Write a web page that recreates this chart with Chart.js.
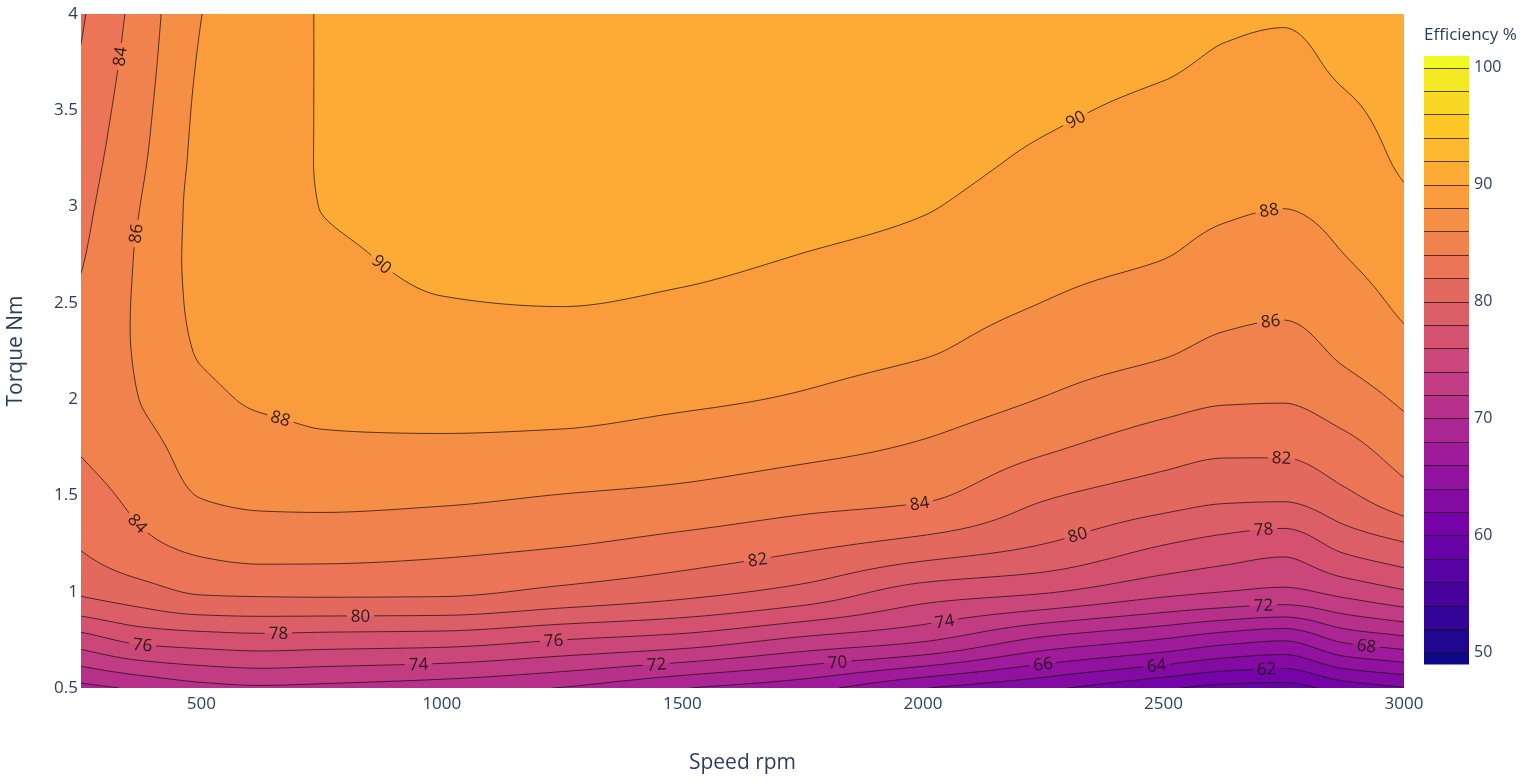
<!DOCTYPE html>
<html>
<head>
<meta charset="utf-8">
<title>Efficiency map</title>
<script src="https://cdn.jsdelivr.net/npm/chart.js@4.4.0/dist/chart.umd.min.js"></script>
<style>
  html, body { margin: 0; padding: 0; background: #fff; }
</style>
</head>
<body>
<canvas id="myChart" width="1530" height="783"></canvas>
<script>
// grid of the efficiency map: speed columns (rpm) and torque rows (Nm)
const speeds = [250, 375, 500, 625, 750, 1000, 1250, 1500, 1750, 2000, 2250, 2500, 2625, 2750, 2875, 3000];
const torques = [0.5, 0.75, 1, 1.25, 1.5, 1.75, 2, 2.25, 2.5, 2.75, 3, 3.25, 3.5, 3.75, 4];

// efficiency % : one row per torque, one value per speed
const efficiency = [
    [69.4, 70.35, 71.33, 71.7, 71.5, 70.9, 69.9, 68.1, 66.7, 64.1, 62.4, 60.3, 59.4, 59.2, 60.9, 61.9],
    [75.1, 76.55, 77.0, 77.25, 77.1, 76.9, 76.0, 75.18, 73.57, 72.25, 69.55, 67.85, 66.77, 66.15, 68.43, 69.43],
    [80.3, 81.26, 82.23, 82.38, 82.43, 82.36, 81.56, 80.64, 79.37, 77.12, 76.19, 74.56, 74.0, 73.6, 74.63, 75.8],
    [82.2, 83.58, 84.52, 84.9, 84.87, 84.58, 84.16, 83.39, 82.48, 81.42, 80.03, 78.1, 77.36, 76.85, 78.71, 79.89],
    [83.2, 84.59, 86.07, 86.41, 86.52, 86.36, 85.95, 85.56, 84.86, 84.32, 82.25, 80.96, 80.44, 80.37, 81.62, 83.27],
    [84.15, 85.34, 86.8, 87.34, 87.74, 87.73, 87.58, 87.09, 86.53, 85.78, 84.32, 82.9, 82.41, 82.4, 83.39, 84.97],
    [84.7, 86.05, 87.53, 88.2, 88.33, 88.55, 88.56, 88.27, 87.84, 87.05, 85.94, 84.71, 84.2, 84.12, 85.05, 86.33],
    [84.9, 86.25, 88.15, 88.6, 88.76, 89.23, 89.31, 89.02, 88.6, 88.15, 86.96, 86.2, 85.55, 85.31, 86.36, 87.48],
    [84.35, 86.35, 88.4, 88.85, 89.18, 89.92, 90.05, 89.78, 89.29, 88.83, 87.98, 87.16, 86.6, 86.35, 87.17, 88.35],
    [83.8, 86.3, 88.5, 89.0, 89.6, 90.4, 90.6, 90.4, 89.98, 89.51, 88.58, 88.07, 87.5, 87.18, 87.99, 89.0],
    [83.39, 86.05, 88.5, 89.05, 90.03, 90.7, 90.9, 90.8, 90.5, 90.1, 89.18, 88.6, 88.23, 88.03, 88.57, 89.64],
    [82.97, 85.7, 88.4, 89.05, 90.1, 90.9, 91.0, 91.0, 90.8, 90.5, 89.78, 89.14, 88.76, 88.56, 89.15, 90.3],
    [82.56, 85.4, 88.3, 89.05, 90.1, 91.0, 91.1, 91.1, 91.0, 90.7, 90.2, 89.68, 89.28, 89.09, 89.72, 90.6],
    [82.15, 85.1, 88.15, 89.0, 90.1, 91.0, 91.1, 91.1, 91.0, 90.8, 90.4, 90.2, 89.8, 89.62, 90.3, 90.8],
    [81.75, 84.84, 87.98, 89.0, 90.1, 91.0, 91.1, 91.1, 91.0, 90.8, 90.5, 90.7, 90.3, 90.15, 90.6, 90.9]
];

const contourLevels = [50, 52, 54, 56, 58, 60, 62, 64, 66, 68, 70, 72, 74, 76, 78, 80, 82, 84, 86, 88, 90, 92, 94, 96, 98, 100];
const speedTicks = [500, 1000, 1500, 2000, 2500, 3000];
const torqueTicks = [0.5, 1, 1.5, 2, 2.5, 3, 3.5, 4];
const colorbarTicks = [50, 60, 70, 80, 90, 100];
const colorbarRange = [49, 101];

// contour labels: level and roughly where it sits (speed, torque)
const labelLevels = [84, 86, 90, 88, 84, 80, 78, 76, 74, 76, 72, 82, 70, 84, 74, 66, 80, 90, 64, 88, 86, 82, 78, 72, 62, 68];
const labelSpeeds = [327, 367, 868, 660, 352, 831, 660, 377, 951, 1232, 1447, 1657, 1822, 1994, 2046, 2250, 2319, 2319, 2487, 2718, 2722, 2745, 2709, 2707, 2715, 2921];
const labelTorques = [3.78, 2.86, 2.68, 1.86, 1.32, 0.88, 0.77, 0.72, 0.63, 0.75, 0.63, 1.17, 0.62, 1.44, 0.82, 0.62, 1.31, 3.44, 0.60, 3.00, 2.41, 1.71, 1.32, 0.94, 0.60, 0.71];

const plasma = ['#0d0887', '#46039f', '#7201a8', '#9c179e', '#bd3786', '#d8576b', '#ed7953', '#fb9f3a', '#fdca26', '#f0f921'];

const textColor = '#2a3f5f';
const lineColor = 'rgba(25, 15, 20, 0.72)';

function hexRgb(h) {
    return [parseInt(h.slice(1, 3), 16), parseInt(h.slice(3, 5), 16), parseInt(h.slice(5, 7), 16)];
}
const plasmaRgb = plasma.map(hexRgb);

function colorAt(t) {
    t = Math.max(0, Math.min(1, t));
    const p = t * (plasmaRgb.length - 1);
    const i = Math.min(Math.floor(p), plasmaRgb.length - 2);
    const f = p - i;
    const a = plasmaRgb[i], b = plasmaRgb[i + 1];
    return [0, 1, 2].map(k => Math.round(a[k] + (b[k] - a[k]) * f));
}

// colour of the band that starts at level L
function bandRgb(L) {
    const step = contourLevels[1] - contourLevels[0];
    return colorAt((L + step / 2 - colorbarRange[0]) / (colorbarRange[1] - colorbarRange[0]));
}

// monotone cubic (pchip)
function pchipSlopes(xs, ys) {
    const n = xs.length, h = [], d = [], m = new Array(n);
    for (let i = 0; i < n - 1; i++) {
        h[i] = xs[i + 1] - xs[i];
        d[i] = (ys[i + 1] - ys[i]) / h[i];
    }
    m[0] = d[0];
    m[n - 1] = d[n - 2];
    for (let i = 1; i < n - 1; i++) {
        if (d[i - 1] * d[i] <= 0) {
            m[i] = 0;
        } else {
            const w1 = 2 * h[i] + h[i - 1], w2 = h[i] + 2 * h[i - 1];
            m[i] = (w1 + w2) / (w1 / d[i - 1] + w2 / d[i]);
        }
    }
    return m;
}

function pchipEval(xs, ys, m, x) {
    let i = 0;
    while (i < xs.length - 2 && x > xs[i + 1]) i++;
    const h = xs[i + 1] - xs[i];
    const t = (x - xs[i]) / h, t2 = t * t, t3 = t2 * t;
    return (2 * t3 - 3 * t2 + 1) * ys[i] + (t3 - 2 * t2 + t) * h * m[i]
        + (-2 * t3 + 3 * t2) * ys[i + 1] + (t3 - t2) * h * m[i + 1];
}

function clamp(v, a, b) { return Math.max(a, Math.min(b, v)); }

let cache = null;

function buildField(chart) {
    const {left, top, right, bottom} = chart.chartArea;
    const xs = chart.scales.x, ys = chart.scales.y;
    const W = Math.round(right - left), H = Math.round(bottom - top);
    const nx = W + 1, ny = H + 1;
    const z = new Float32Array(nx * ny);
    const cols = speeds.map((s, j) => efficiency.map(row => row[j]));
    const colM = cols.map(c => pchipSlopes(torques, c));
    const colSpeed = new Float64Array(nx);
    for (let c = 0; c < nx; c++) {
        colSpeed[c] = clamp(xs.getValueForPixel(left + c), speeds[0], speeds[speeds.length - 1]);
    }
    const vals = new Array(speeds.length);
    for (let r = 0; r < ny; r++) {
        const t = clamp(ys.getValueForPixel(top + r), torques[0], torques[torques.length - 1]);
        for (let j = 0; j < speeds.length; j++) vals[j] = pchipEval(torques, cols[j], colM[j], t);
        const m = pchipSlopes(speeds, vals);
        for (let c = 0; c < nx; c++) z[r * nx + c] = pchipEval(speeds, vals, m, colSpeed[c]);
    }
    return {left, top, W, H, nx, ny, z};
}

function traceContours(f) {
    const {nx, ny, z, left, top} = f;
    const segs = contourLevels.map(() => []);
    const lo = contourLevels[0], step = contourLevels[1] - contourLevels[0], n = contourLevels.length;
    for (let r = 0; r < ny - 1; r++) {
        for (let c = 0; c < nx - 1; c++) {
            const a = z[r * nx + c], b = z[r * nx + c + 1];
            const d = z[(r + 1) * nx + c], e = z[(r + 1) * nx + c + 1];
            const mn = Math.min(a, b, d, e), mx = Math.max(a, b, d, e);
            const k0 = Math.max(0, Math.ceil((mn - lo) / step));
            const k1 = Math.min(n - 1, Math.floor((mx - lo) / step));
            for (let k = k0; k <= k1; k++) {
                const L = contourLevels[k];
                const idx = (a >= L ? 8 : 0) | (b >= L ? 4 : 0) | (e >= L ? 2 : 0) | (d >= L ? 1 : 0);
                if (idx === 0 || idx === 15) continue;
                const X = left + c, Y = top + r;
                const T = () => [X + (L - a) / (b - a), Y];
                const R = () => [X + 1, Y + (L - b) / (e - b)];
                const B = () => [X + (L - d) / (e - d), Y + 1];
                const Lf = () => [X, Y + (L - a) / (d - a)];
                const out = segs[k];
                const add = (p, q) => out.push(p[0], p[1], q[0], q[1]);
                const centre = (a + b + d + e) / 4;
                switch (idx) {
                    case 1: case 14: add(Lf(), B()); break;
                    case 2: case 13: add(B(), R()); break;
                    case 3: case 12: add(Lf(), R()); break;
                    case 4: case 11: add(T(), R()); break;
                    case 6: case 9: add(T(), B()); break;
                    case 7: case 8: add(Lf(), T()); break;
                    case 5:
                        if (centre >= L) { add(Lf(), T()); add(B(), R()); }
                        else { add(T(), R()); add(Lf(), B()); }
                        break;
                    case 10:
                        if (centre >= L) { add(T(), R()); add(Lf(), B()); }
                        else { add(Lf(), T()); add(B(), R()); }
                        break;
                }
            }
        }
    }
    return segs;
}

function paintField(f) {
    const {W, H, nx, z} = f;
    const img = new ImageData(W, H);
    const lo = contourLevels[0], step = contourLevels[1] - contourLevels[0];
    const bands = [];
    for (let k = -1; k < contourLevels.length; k++) bands.push(bandRgb(lo + k * step));
    for (let r = 0; r < H; r++) {
        for (let c = 0; c < W; c++) {
            const v = (z[r * nx + c] + z[r * nx + c + 1] + z[(r + 1) * nx + c] + z[(r + 1) * nx + c + 1]) / 4;
            let bi = Math.floor((v - lo) / step) + 1;
            bi = clamp(bi, 0, bands.length - 1);
            const col = bands[bi];
            const p = (r * W + c) * 4;
            img.data[p] = col[0];
            img.data[p + 1] = col[1];
            img.data[p + 2] = col[2];
            img.data[p + 3] = 255;
        }
    }
    return img;
}

function placeLabels(chart, segs, ctx) {
    const xs = chart.scales.x, ys = chart.scales.y;
    ctx.font = '17px "Open Sans"';
    const out = [];
    labelLevels.forEach((L, i) => {
        const k = contourLevels.indexOf(L);
        const list = segs[k];
        if (!list || !list.length) return;
        const hx = xs.getPixelForValue(labelSpeeds[i]), hy = ys.getPixelForValue(labelTorques[i]);
        let best = -1, bd = Infinity;
        for (let s = 0; s < list.length; s += 4) {
            const mx = (list[s] + list[s + 2]) / 2, my = (list[s + 1] + list[s + 3]) / 2;
            const dd = (mx - hx) ** 2 + (my - hy) ** 2;
            if (dd < bd) { bd = dd; best = s; }
        }
        const px = (list[best] + list[best + 2]) / 2, py = (list[best + 1] + list[best + 3]) / 2;
        const rx = list[best + 2] - list[best], ry = list[best + 3] - list[best + 1];
        let dx = 0, dy = 0;
        for (let s = 0; s < list.length; s += 4) {
            const mx = (list[s] + list[s + 2]) / 2, my = (list[s + 1] + list[s + 3]) / 2;
            if ((mx - px) ** 2 + (my - py) ** 2 > 144) continue;
            let sx = list[s + 2] - list[s], sy = list[s + 3] - list[s + 1];
            if (sx * rx + sy * ry < 0) { sx = -sx; sy = -sy; }
            dx += sx; dy += sy;
        }
        let ang = Math.atan2(dy, dx);
        if (ang > Math.PI / 2) ang -= Math.PI;
        if (ang < -Math.PI / 2) ang += Math.PI;
        const text = String(L);
        out.push({x: px, y: py, ang, text, w: ctx.measureText(text).width});
    });
    return out;
}

const contourPlugin = {
    id: 'contourFill',
    beforeDatasetsDraw(chart) {
        const ctx = chart.ctx;
        const area = chart.chartArea;
        const key = [area.left, area.top, area.right, area.bottom].join(',');
        if (!cache || cache.key !== key) {
            const f = buildField(chart);
            const segs = traceContours(f);
            cache = {key, f, segs, img: paintField(f), labels: placeLabels(chart, segs, ctx)};
        }
        const {f, segs, img, labels} = cache;
        ctx.putImageData(img, f.left, f.top);

        ctx.save();
        // cut gaps in the lines where labels sit
        ctx.beginPath();
        ctx.rect(area.left, area.top, area.right - area.left, area.bottom - area.top);
        labels.forEach(lb => {
            const hw = lb.w / 2 + 4, hh = 9;
            const cs = Math.cos(lb.ang), sn = Math.sin(lb.ang);
            const pts = [[-hw, -hh], [hw, -hh], [hw, hh], [-hw, hh]].map(([u, v]) => [lb.x + u * cs - v * sn, lb.y + u * sn + v * cs]);
            ctx.moveTo(pts[0][0], pts[0][1]);
            for (let i = 1; i < 4; i++) ctx.lineTo(pts[i][0], pts[i][1]);
            ctx.closePath();
        });
        ctx.clip('evenodd');
        ctx.strokeStyle = lineColor;
        ctx.lineWidth = 1;
        segs.forEach(list => {
            if (!list.length) return;
            ctx.beginPath();
            for (let s = 0; s < list.length; s += 4) {
                ctx.moveTo(list[s], list[s + 1]);
                ctx.lineTo(list[s + 2], list[s + 3]);
            }
            ctx.stroke();
        });
        ctx.restore();

        ctx.save();
        ctx.font = '17px "Open Sans"';
        ctx.fillStyle = 'rgba(30, 15, 20, 0.9)';
        ctx.textAlign = 'center';
        ctx.textBaseline = 'middle';
        labels.forEach(lb => {
            ctx.save();
            ctx.translate(lb.x, lb.y);
            ctx.rotate(lb.ang);
            ctx.fillText(lb.text, 0, 1);
            ctx.restore();
        });
        ctx.restore();
    },
    afterDraw(chart) {
        const ctx = chart.ctx;
        const area = chart.chartArea;
        const cbLeft = area.right + 20, cbWidth = 45, cbTop = 56, cbBottom = 664;
        const [vMin, vMax] = colorbarRange;
        const yOf = v => cbBottom - (v - vMin) / (vMax - vMin) * (cbBottom - cbTop);
        const step = contourLevels[1] - contourLevels[0];
        ctx.save();
        for (let k = -1; k < contourLevels.length; k++) {
            const L = contourLevels[0] + k * step;
            const a = Math.max(L, vMin), b = Math.min(L + step, vMax);
            if (b <= a) continue;
            const c = bandRgb(L);
            ctx.fillStyle = `rgb(${c[0]},${c[1]},${c[2]})`;
            ctx.fillRect(cbLeft, yOf(b), cbWidth, yOf(a) - yOf(b) + 0.5);
        }
        ctx.strokeStyle = lineColor;
        ctx.lineWidth = 1;
        ctx.beginPath();
        contourLevels.forEach(L => {
            const y = Math.round(yOf(L)) + 0.5;
            ctx.moveTo(cbLeft, y);
            ctx.lineTo(cbLeft + cbWidth, y);
        });
        ctx.stroke();

        ctx.fillStyle = textColor;
        ctx.font = '16px "Open Sans"';
        ctx.textAlign = 'left';
        ctx.textBaseline = 'middle';
        colorbarTicks.forEach(v => ctx.fillText(String(v), cbLeft + cbWidth + 5, yOf(v)));
        ctx.font = '17px "Open Sans"';
        ctx.fillText('Efficiency %', cbLeft, 35);
        ctx.restore();
    }
};

const tickFont = {family: 'Open Sans', size: 17};
const titleFont = {family: 'Open Sans', size: 21};

const ctx = document.getElementById('myChart').getContext('2d');
const myChart = new Chart(ctx, {
    type: 'scatter',
    data: {datasets: []},
    options: {
        responsive: false,
        animation: false,
        events: [],
        layout: {padding: {top: 14, right: 126, left: 0, bottom: 0}},
        plugins: {legend: {display: false}, tooltip: {enabled: false}},
        scales: {
            x: {
                type: 'linear',
                min: speeds[0],
                max: speeds[speeds.length - 1],
                afterBuildTicks: s => { s.ticks = speedTicks.map(v => ({value: v})); },
                afterFit: s => { s.height = 95; },
                grid: {display: false, drawTicks: false},
                border: {display: false},
                ticks: {color: textColor, font: tickFont, padding: 6, maxRotation: 0, callback: v => String(v)},
                title: {display: true, text: 'Speed rpm', color: textColor, font: titleFont, padding: {top: 0, bottom: 7}}
            },
            y: {
                type: 'linear',
                min: torques[0],
                max: torques[torques.length - 1],
                afterBuildTicks: s => { s.ticks = torqueTicks.map(v => ({value: v})); },
                afterFit: s => { s.width = 81; },
                grid: {display: false, drawTicks: false},
                border: {display: false},
                ticks: {color: textColor, font: tickFont, padding: 3, callback: v => String(v)},
                title: {display: true, text: 'Torque Nm', color: textColor, font: titleFont, padding: {top: 3, bottom: 0}}
            }
        }
    },
    plugins: [contourPlugin]
});
</script>
</body>
</html>
